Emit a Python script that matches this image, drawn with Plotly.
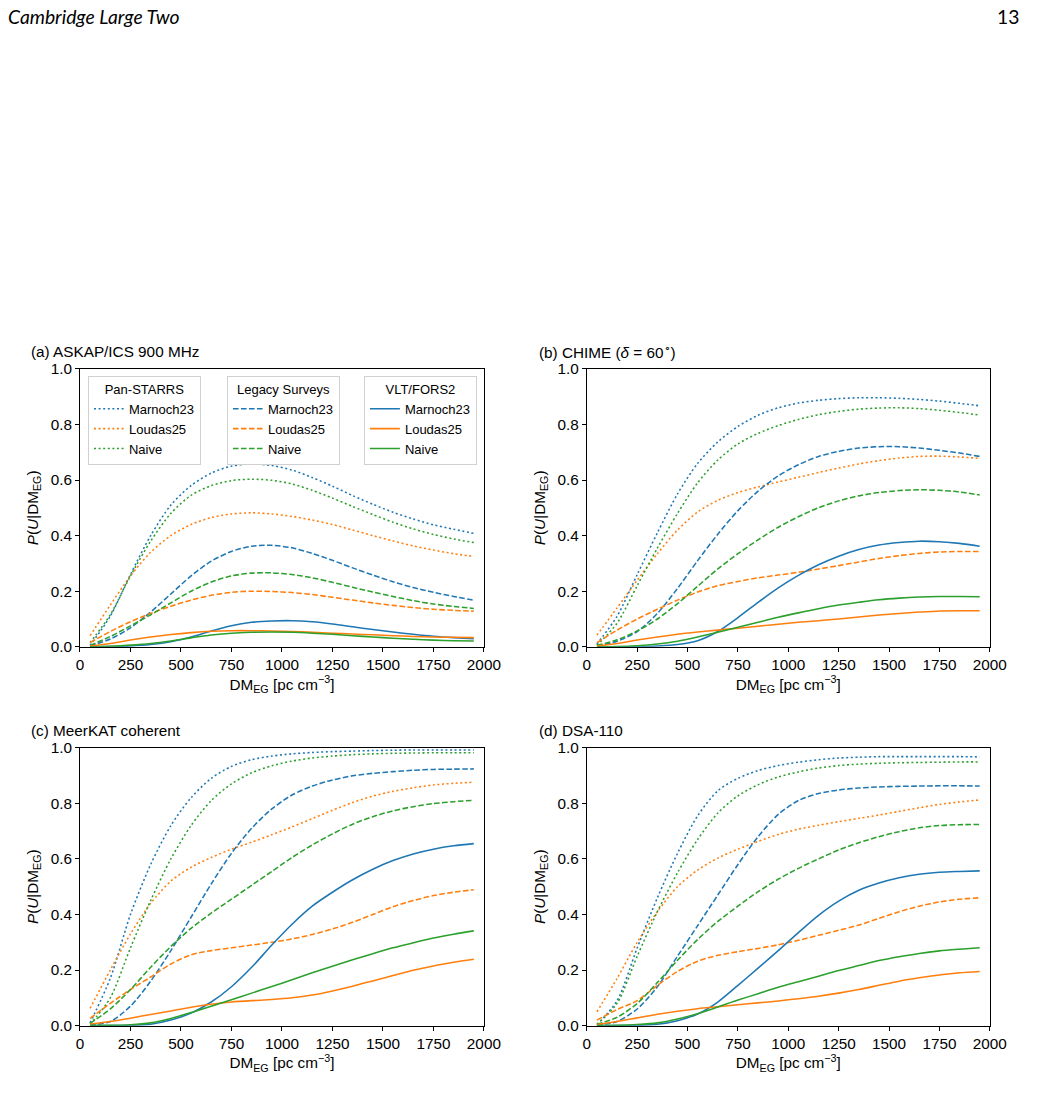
import plotly.graph_objects as go

DM = [50, 150, 250, 350, 450, 550, 650, 750, 850, 950,
      1050, 1150, 1250, 1350, 1450, 1550, 1650, 1750, 1850, 1950]

# ---------- (a) ASKAP/ICS 900 MHz ----------
a_ps_marnoch = [0.005, 0.11, 0.26, 0.40, 0.51, 0.58, 0.625, 0.65, 0.658, 0.652, 0.636, 0.609, 0.578, 0.544, 0.513, 0.484, 0.46, 0.439, 0.423, 0.408]
a_ps_loudas = [0.04, 0.15, 0.255, 0.34, 0.40, 0.44, 0.465, 0.478, 0.482, 0.478, 0.469, 0.456, 0.44, 0.42, 0.40, 0.381, 0.363, 0.348, 0.335, 0.325]
a_ps_naive = [0.015, 0.115, 0.255, 0.38, 0.48, 0.545, 0.58, 0.598, 0.603, 0.599, 0.586, 0.563, 0.535, 0.505, 0.476, 0.448, 0.424, 0.404, 0.388, 0.375]
a_ls_marnoch = [0.003, 0.028, 0.068, 0.125, 0.19, 0.255, 0.308, 0.343, 0.362, 0.365, 0.356, 0.336, 0.311, 0.284, 0.258, 0.234, 0.213, 0.196, 0.181, 0.168]
a_ls_loudas = [0.015, 0.055, 0.09, 0.12, 0.146, 0.168, 0.185, 0.196, 0.2, 0.199, 0.195, 0.188, 0.178, 0.168, 0.158, 0.149, 0.141, 0.135, 0.131, 0.128]
a_ls_naive = [0.005, 0.037, 0.075, 0.115, 0.158, 0.2, 0.233, 0.255, 0.265, 0.266, 0.26, 0.248, 0.232, 0.214, 0.197, 0.181, 0.166, 0.154, 0.145, 0.138]
a_vlt_marnoch = [0.0, 0.001, 0.003, 0.008, 0.018, 0.035, 0.057, 0.076, 0.088, 0.093, 0.094, 0.09, 0.082, 0.072, 0.062, 0.053, 0.045, 0.038, 0.033, 0.029]
a_vlt_loudas = [0.003, 0.012, 0.024, 0.035, 0.044, 0.051, 0.056, 0.058, 0.058, 0.057, 0.055, 0.052, 0.049, 0.046, 0.043, 0.04, 0.037, 0.035, 0.034, 0.033]
a_vlt_naive = [0.0, 0.002, 0.006, 0.012, 0.021, 0.032, 0.042, 0.049, 0.052, 0.053, 0.052, 0.049, 0.045, 0.04, 0.035, 0.031, 0.027, 0.024, 0.022, 0.021]

# ---------- (b) CHIME ----------
b_ps_marnoch = [0.01, 0.11, 0.26, 0.41, 0.55, 0.66, 0.737, 0.793, 0.833, 0.86, 0.877, 0.887, 0.893, 0.896, 0.896, 0.894, 0.89, 0.884, 0.876, 0.867]
b_ps_loudas = [0.042, 0.14, 0.24, 0.335, 0.42, 0.485, 0.527, 0.555, 0.575, 0.593, 0.61, 0.627, 0.643, 0.658, 0.67, 0.679, 0.685, 0.686, 0.683, 0.678]
b_ps_naive = [0.005, 0.085, 0.22, 0.355, 0.48, 0.59, 0.672, 0.73, 0.768, 0.796, 0.818, 0.835, 0.847, 0.855, 0.859, 0.86, 0.857, 0.851, 0.843, 0.834]
b_ls_marnoch = [0.003, 0.02, 0.055, 0.12, 0.21, 0.31, 0.405, 0.49, 0.56, 0.615, 0.655, 0.685, 0.703, 0.715, 0.72, 0.72, 0.715, 0.707, 0.697, 0.685]
b_ls_loudas = [0.015, 0.06, 0.1, 0.135, 0.168, 0.197, 0.22, 0.235, 0.248, 0.258, 0.268, 0.28, 0.292, 0.305, 0.318, 0.328, 0.336, 0.341, 0.343, 0.343]
b_ls_naive = [0.005, 0.025, 0.057, 0.1, 0.155, 0.218, 0.28, 0.335, 0.385, 0.43, 0.468, 0.5, 0.525, 0.543, 0.555, 0.562, 0.565, 0.563, 0.557, 0.546]
b_vlt_marnoch = [0.0, 0.0, 0.001, 0.003, 0.008, 0.022, 0.055, 0.105, 0.16, 0.212, 0.257, 0.295, 0.326, 0.35, 0.366, 0.375, 0.38, 0.378, 0.372, 0.362]
b_vlt_loudas = [0.003, 0.012, 0.024, 0.035, 0.045, 0.053, 0.06, 0.067, 0.074, 0.081, 0.088, 0.094, 0.1, 0.107, 0.114, 0.12, 0.125, 0.129, 0.13, 0.13]
b_vlt_naive = [0.0, 0.001, 0.004, 0.01, 0.02, 0.035, 0.052, 0.07, 0.088, 0.106, 0.122, 0.137, 0.15, 0.16, 0.169, 0.175, 0.179, 0.181, 0.181, 0.18]

# ---------- (c) MeerKAT coherent ----------
c_ps_marnoch = [0.01, 0.17, 0.40, 0.58, 0.72, 0.82, 0.89, 0.933, 0.957, 0.97, 0.978, 0.983, 0.986, 0.988, 0.99, 0.991, 0.992, 0.992, 0.992, 0.992]
c_ps_loudas = [0.062, 0.2, 0.33, 0.44, 0.52, 0.57, 0.605, 0.635, 0.66, 0.687, 0.715, 0.745, 0.775, 0.803, 0.826, 0.843, 0.856, 0.866, 0.872, 0.876]
c_ps_naive = [0.005, 0.1, 0.28, 0.45, 0.6, 0.72, 0.81, 0.87, 0.91, 0.935, 0.952, 0.963, 0.97, 0.975, 0.978, 0.98, 0.981, 0.982, 0.982, 0.982]
c_ls_marnoch = [0.002, 0.015, 0.07, 0.16, 0.27, 0.39, 0.51, 0.62, 0.71, 0.78, 0.83, 0.862, 0.884, 0.899, 0.908, 0.914, 0.919, 0.922, 0.923, 0.924]
c_ls_loudas = [0.026, 0.08, 0.13, 0.175, 0.222, 0.255, 0.27, 0.28, 0.29, 0.3, 0.312, 0.328, 0.348, 0.372, 0.4, 0.428, 0.45, 0.468, 0.48, 0.489]
c_ls_naive = [0.008, 0.06, 0.13, 0.21, 0.285, 0.35, 0.405, 0.455, 0.505, 0.555, 0.605, 0.65, 0.69, 0.725, 0.752, 0.773, 0.788, 0.799, 0.806, 0.811]
c_vlt_marnoch = [0.0, 0.0, 0.001, 0.005, 0.02, 0.045, 0.085, 0.14, 0.21, 0.29, 0.365, 0.43, 0.48, 0.525, 0.563, 0.594, 0.618, 0.635, 0.647, 0.655]
c_vlt_loudas = [0.005, 0.015, 0.027, 0.04, 0.053, 0.066, 0.077, 0.085, 0.09, 0.094, 0.1, 0.11, 0.125, 0.142, 0.161, 0.18, 0.199, 0.215, 0.228, 0.239]
c_vlt_naive = [0.0, 0.001, 0.003, 0.01, 0.026, 0.047, 0.07, 0.093, 0.117, 0.141, 0.165, 0.19, 0.214, 0.237, 0.259, 0.28, 0.298, 0.315, 0.329, 0.341]

# ---------- (d) DSA-110 ----------
d_ps_marnoch = [0.003, 0.09, 0.28, 0.46, 0.62, 0.755, 0.845, 0.89, 0.918, 0.936, 0.948, 0.957, 0.963, 0.966, 0.968, 0.968, 0.968, 0.968, 0.968, 0.967]
d_ps_loudas = [0.05, 0.17, 0.3, 0.41, 0.5, 0.56, 0.603, 0.635, 0.663, 0.688, 0.707, 0.721, 0.734, 0.746, 0.758, 0.771, 0.784, 0.796, 0.805, 0.812]
d_ps_naive = [0.005, 0.08, 0.25, 0.41, 0.55, 0.67, 0.765, 0.827, 0.867, 0.895, 0.913, 0.927, 0.936, 0.941, 0.944, 0.946, 0.947, 0.948, 0.949, 0.949]
d_ls_marnoch = [0.002, 0.015, 0.06, 0.14, 0.25, 0.36, 0.47, 0.58, 0.68, 0.76, 0.81, 0.835, 0.848, 0.855, 0.859, 0.861, 0.862, 0.863, 0.863, 0.862]
d_ls_loudas = [0.02, 0.058, 0.09, 0.145, 0.195, 0.232, 0.253, 0.266, 0.278, 0.291, 0.307, 0.325, 0.343, 0.362, 0.386, 0.41, 0.43, 0.445, 0.455, 0.46]
d_ls_naive = [0.005, 0.03, 0.08, 0.155, 0.235, 0.31, 0.375, 0.43, 0.482, 0.527, 0.566, 0.6, 0.632, 0.658, 0.68, 0.698, 0.712, 0.72, 0.723, 0.724]
d_vlt_marnoch = [0.0, 0.0, 0.001, 0.005, 0.018, 0.042, 0.085, 0.145, 0.207, 0.27, 0.335, 0.397, 0.448, 0.487, 0.513, 0.532, 0.545, 0.552, 0.555, 0.557]
d_vlt_loudas = [0.004, 0.015, 0.028, 0.041, 0.052, 0.061, 0.068, 0.075, 0.082, 0.089, 0.097, 0.106, 0.117, 0.13, 0.145, 0.16, 0.172, 0.182, 0.19, 0.195]
d_vlt_naive = [0.0, 0.001, 0.004, 0.01, 0.024, 0.043, 0.067, 0.092, 0.115, 0.138, 0.158, 0.178, 0.198, 0.216, 0.234, 0.248, 0.26, 0.269, 0.275, 0.28]

panel_titles = ["(a) ASKAP/ICS 900 MHz", "(b) CHIME (<i>δ</i> = 60<sup>∘</sup>)",
                "(c) MeerKAT coherent", "(d) DSA-110"]
survey_names = ["Pan-STARRS", "Legacy Surveys", "VLT/FORS2"]
model_names = ["Marnoch23", "Loudas25", "Naive"]
x_ticks = [0, 250, 500, 750, 1000, 1250, 1500, 1750, 2000]
y_ticks = [0.0, 0.2, 0.4, 0.6, 0.8, 1.0]

panels = [
    [[a_ps_marnoch, a_ps_loudas, a_ps_naive], [a_ls_marnoch, a_ls_loudas, a_ls_naive], [a_vlt_marnoch, a_vlt_loudas, a_vlt_naive]],
    [[b_ps_marnoch, b_ps_loudas, b_ps_naive], [b_ls_marnoch, b_ls_loudas, b_ls_naive], [b_vlt_marnoch, b_vlt_loudas, b_vlt_naive]],
    [[c_ps_marnoch, c_ps_loudas, c_ps_naive], [c_ls_marnoch, c_ls_loudas, c_ls_naive], [c_vlt_marnoch, c_vlt_loudas, c_vlt_naive]],
    [[d_ps_marnoch, d_ps_loudas, d_ps_naive], [d_ls_marnoch, d_ls_loudas, d_ls_naive], [d_vlt_marnoch, d_vlt_loudas, d_vlt_naive]],
]

W, H = 1038, 1108
# the photographed page maps paper pixels (x, y) to (4 + 0.98 x, 9 + 0.985 y);
# positions below are target picture pixels, converted back to paper fractions
SX, OX, SY, OY = 0.98, 4.0, 0.985, 9.0
K = 0.982  # average shrink, compensated in font sizes and line widths


def fx(X):
    return (X - OX) / SX / W


def fy(Y):
    return 1 - (Y - OY) / SY / H


def fs(size):
    return round(size / K, 1)


COLORS = ["#1f77b4", "#ff7f0e", "#2ca02c"]
DASHES = ["2px,2.6px", "5.6px,2.4px", "solid"]
FONT = "Liberation Sans, Arial, Helvetica, sans-serif"

# panel boxes in target pixels: (left, right, top, bottom)
boxes = [(80, 484, 369, 647), (587, 990, 369, 647), (80, 484, 748, 1026), (587, 990, 748, 1026)]
title_pos = [(29, 352), (537, 352), (29, 731), (537, 731)]

fig = go.Figure()
legend_ids = ["legend", "legend2", "legend3"]

for p, groups in enumerate(panels):
    xa = "x" if p == 0 else f"x{p+1}"
    ya = "y" if p == 0 else f"y{p+1}"
    for s, series_list in enumerate(groups):
        for m, vals in enumerate(series_list):
            fig.add_trace(go.Scatter(
                x=DM, y=vals, mode="lines",
                line=dict(color=COLORS[m], width=1.55, dash=DASHES[s], shape="spline", smoothing=0.8),
                name=model_names[m],
                showlegend=(p == 0), legend=legend_ids[s],
                xaxis=xa, yaxis=ya, hoverinfo="skip"))

layout = dict(
    width=W, height=H, autosize=False, margin=dict(l=0, r=0, t=0, b=0, pad=0),
    paper_bgcolor="white", plot_bgcolor="white",
    font=dict(family=FONT, size=fs(15), color="#000"),
)

for p, (l, r, t, b) in enumerate(boxes):
    sx = "" if p == 0 else str(p + 1)
    axis_common = dict(showline=True, linecolor="#000", linewidth=1, mirror=True,
                       ticks="outside", ticklen=4, tickwidth=1, tickcolor="#000",
                       showgrid=False, zeroline=False, tickfont=dict(size=fs(15)))
    layout["xaxis" + sx] = dict(axis_common, domain=[fx(l), fx(r)], range=[0, 2000],
                                tickvals=x_ticks, ticktext=[str(v) for v in x_ticks],
                                anchor="y" + sx,
                                title=dict(text="DM<sub>EG</sub> [pc cm<sup>−3</sup>]",
                                           font=dict(size=fs(15)), standoff=6))
    layout["yaxis" + sx] = dict(axis_common, domain=[fy(b), fy(t)], range=[0, 1],
                                tickvals=y_ticks, ticktext=[f"{v:.1f}" for v in y_ticks],
                                anchor="x" + sx,
                                title=dict(text="<i>P</i>(<i>U</i>|DM<sub>EG</sub>)",
                                           font=dict(size=fs(15)), standoff=8))

leg_x = [88, 227, 364]
for i, lid in enumerate(legend_ids):
    layout[lid] = dict(x=fx(leg_x[i]), y=fy(376), xanchor="left", yanchor="top",
                       bgcolor="white", bordercolor="#d0d0d0", borderwidth=1,
                       font=dict(size=fs(12.8)), itemwidth=30, tracegroupgap=0,
                       title=dict(text=survey_names[i], side="top center", font=dict(size=fs(12.8))))

annotations = []
for p, (tx, ty) in enumerate(title_pos):
    annotations.append(dict(text=panel_titles[p], x=fx(tx), y=fy(ty), xref="paper", yref="paper",
                            xanchor="left", yanchor="middle", showarrow=False,
                            font=dict(size=fs(15), family=FONT)))
annotations.append(dict(text="<i>Cambridge Large Two</i>", x=fx(6), y=fy(17), xref="paper", yref="paper",
                        xanchor="left", yanchor="middle", showarrow=False,
                        font=dict(size=fs(19), family="Lato, Open Sans, sans-serif")))
annotations.append(dict(text="13", x=1.0, y=fy(17), xref="paper", yref="paper",
                        xanchor="right", yanchor="middle", showarrow=False,
                        font=dict(size=fs(19), family="Lato, Open Sans, sans-serif")))
layout["annotations"] = annotations

fig.update_layout(**layout)
fig.write_html("out.html")
